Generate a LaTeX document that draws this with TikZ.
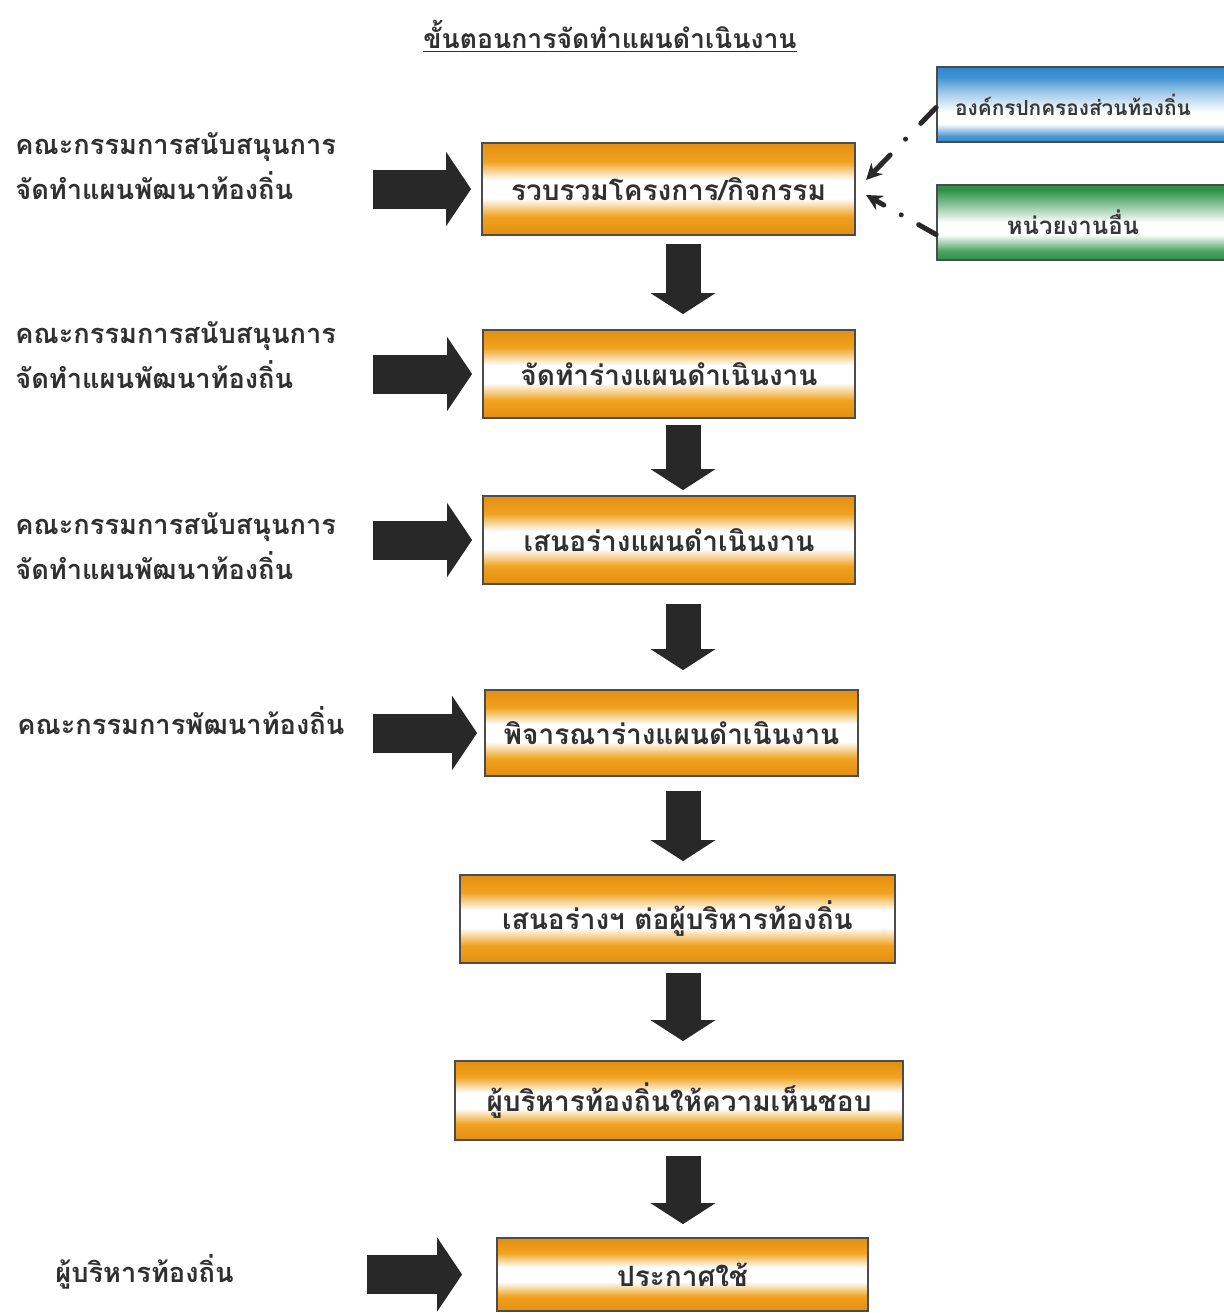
\documentclass[tikz,border=0pt]{standalone}
\usepackage{fontspec}
\newfontfamily\thaifont[Script=Thai]{Loma}
\usetikzlibrary{arrows.meta}
\definecolor{orb}{RGB}{240,162,30}
\definecolor{orbd}{RGB}{228,142,18}
\definecolor{blu}{RGB}{45,135,205}
\definecolor{grn}{RGB}{45,145,70}
\definecolor{ink}{RGB}{40,40,40}
\definecolor{txt}{RGB}{48,48,48}
\pgfdeclareverticalshading{orangebar}{100bp}{color(0bp)=(orbd); color(25bp)=(orbd); color(35bp)=(orb); color(45bp)=(white); color(55bp)=(white); color(65bp)=(orb); color(75bp)=(orbd); color(100bp)=(orbd)}
\pgfdeclareverticalshading{bluebar}{100bp}{color(0bp)=(blu); color(25bp)=(blu); color(29bp)=(blu!85); color(37bp)=(white); color(45bp)=(white); color(58bp)=(blu!45); color(68bp)=(blu!90); color(75bp)=(blu); color(100bp)=(blu)}
\pgfdeclareverticalshading{greenbar}{100bp}{color(0bp)=(grn); color(25bp)=(grn); color(31bp)=(grn!85); color(42bp)=(white); color(50bp)=(white); color(63bp)=(grn!60); color(72bp)=(grn); color(75bp)=(grn); color(100bp)=(grn)}
\tikzset{
  fbox/.style={draw=black!70, line width=0.9pt, shading=orangebar, inner sep=0pt,
    font=\thaifont\bfseries\fontsize{14}{16}\selectfont, text=txt},
  sbox/.style={draw=black!70, line width=0.9pt, inner sep=0pt, text=black!78,
    minimum width=146pt, minimum height=37.5pt},
  lbl/.style={anchor=west, align=left, inner sep=0pt,
    font=\thaifont\bfseries\fontsize{13.6}{22.5}\selectfont, text=txt},
  bigr/.style={-{Triangle[length=12.5pt,width=36.5pt]}, line width=19.5pt, draw=ink},
  bigd/.style={-{Triangle[length=10.5pt,width=32pt]}, line width=17.5pt, draw=ink},
  dd/.style={-{Stealth[length=8pt,width=8pt]}, line width=2.5pt, draw=ink, line cap=round},
}
\begin{document}
\begin{tikzpicture}[x=0.5pt,y=-0.5pt]
\useasboundingbox[fill=white] (0,0) rectangle (1223,1313);
% title
\node[inner sep=0pt, font=\thaifont\bfseries\fontsize{13.3}{16}\selectfont, text=txt] (title) at (610,36) {\underline{ขั้นตอนการจัดทำแผนดำเนินงาน}};
% main boxes
\node[fbox, minimum width=186.5pt, minimum height=46pt] (b1) at (668.5,189) {รวบรวมโครงการ/กิจกรรม};
\node[fbox, minimum width=186pt, minimum height=44pt] (b2) at (669,374) {จัดทำร่างแผนดำเนินงาน};
\node[fbox, minimum width=186pt, minimum height=44pt] (b3) at (669,540) {เสนอร่างแผนดำเนินงาน};
\node[fbox, minimum width=186.5pt, minimum height=43pt] (b4) at (671.5,733) {พิจารณาร่างแผนดำเนินงาน};
\node[fbox, minimum width=217.5pt, minimum height=44pt] (b5) at (677.5,919) {เสนอร่างฯ ต่อผู้บริหารท้องถิ่น};
\node[fbox, minimum width=224pt, minimum height=39.5pt] (b6) at (679,1100.5) {ผู้บริหารท้องถิ่นให้ความเห็นชอบ};
\node[fbox, minimum width=185.5pt, minimum height=36.5pt] (b7) at (682.5,1274.5) {ประกาศใช้};
% side boxes (their right edges run off the page, as in the reference)
\node[sbox, shading=bluebar, font=\thaifont\bfseries\fontsize{10.4}{13}\selectfont] (blue) at (1083,104.5) {\hspace*{-10pt}องค์กรปกครองส่วนท้องถิ่น};
\node[sbox, shading=greenbar, font=\thaifont\bfseries\fontsize{12}{14}\selectfont] (green) at (1083,222.5) {\hspace*{-10pt}หน่วยงานอื่น};
% left labels
\node[lbl] (l1) at (15,166) {คณะกรรมการสนับสนุนการ\\จัดทำแผนพัฒนาท้องถิ่น};
\node[lbl] (l2) at (15,355) {คณะกรรมการสนับสนุนการ\\จัดทำแผนพัฒนาท้องถิ่น};
\node[lbl] (l3) at (15,546) {คณะกรรมการสนับสนุนการ\\จัดทำแผนพัฒนาท้องถิ่น};
\node[lbl] (l4) at (17,721) {คณะกรรมการพัฒนาท้องถิ่น};
\node[lbl] (l7) at (55,1272) {ผู้บริหารท้องถิ่น};
% axes for arrows
\coordinate (rx) at (373,0);
\coordinate (ax) at (683,0);
% right block arrows
\draw[bigr] (b1.west -| rx) -- ([xshift=-5pt]b1.west);
\draw[bigr] (b2.west -| rx) -- ([xshift=-5pt]b2.west);
\draw[bigr] (b3.west -| rx) -- ([xshift=-5pt]b3.west);
\draw[bigr] (b4.west -| rx) -- ([xshift=-3.5pt]b4.west);
\draw[bigr] ([xshift=-3pt]b7.west -| rx) -- ([xshift=-17pt]b7.west);
% down block arrows
\draw[bigd, shorten <=4pt, shorten >=7.5pt] (b1.south -| ax) -- (b2.north -| ax);
\draw[bigd, shorten <=3pt, shorten >=2.5pt] (b2.south -| ax) -- (b3.north -| ax);
\draw[bigd, shorten <=9.5pt, shorten >=9.5pt] (b3.south -| ax) -- (b4.north -| ax);
\draw[bigd, shorten <=7pt, shorten >=6.5pt] (b4.south -| ax) -- (b5.north -| ax);
\draw[bigd, shorten <=4.5pt, shorten >=9.5pt] (b5.south -| ax) -- (b6.north -| ax);
\draw[bigd, shorten <=7.5pt, shorten >=6.5pt] (b6.south -| ax) -- (b7.north -| ax);
% dash-dot feeds
\coordinate (c1) at (866,180);
\coordinate (c2) at (866,195);
\draw[dd, dash pattern=on 11pt off 11pt on 0.01pt off 11pt on 40pt] ([yshift=-1.5pt]blue.west) -- (c1);
\draw[dd, dash pattern=on 10pt off 10pt on 0.01pt off 10pt on 40pt] ([yshift=-6pt]green.west) -- (c2);
\end{tikzpicture}
\end{document}
